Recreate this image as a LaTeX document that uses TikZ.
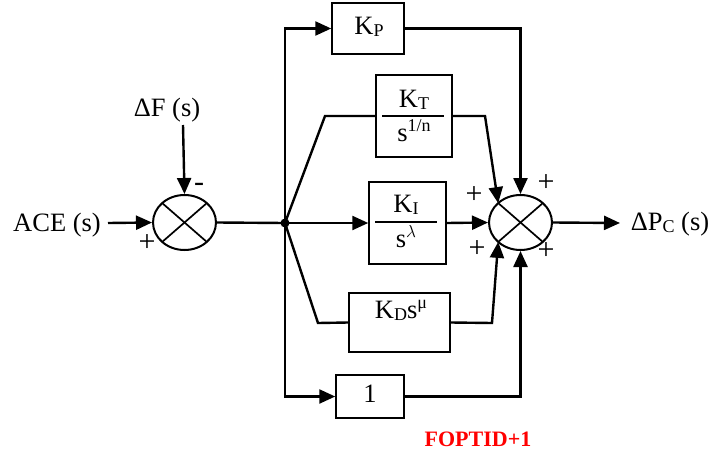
\documentclass[tikz,border=0pt]{standalone}
\usepackage{fontspec}
\setmainfont{Liberation Serif}
\usetikzlibrary{arrows.meta,shapes.geometric,calc}
\newcommand{\mysb}[1]{\raisebox{-0.08em}{\fontsize{18}{18}\selectfont #1}}
\newcommand{\mysp}[1]{\raisebox{0.36em}{\fontsize{18}{18}\selectfont #1}}
\begin{document}
\begin{tikzpicture}[x=1pt,y=-1pt,
  conn/.style={line width=2.4pt},
  arr/.style={conn,-{Triangle[length=16pt,width=14pt]}},
  blk/.style={draw,line width=1.5pt,inner sep=0pt},
  sumj/.style={draw,ellipse,line width=2pt,minimum width=63pt,minimum height=55pt,inner sep=0pt},
  lbl/.style={font=\fontsize{26.5}{30}\selectfont,inner sep=0pt},
  sgn/.style={font=\fontsize{30}{32}\selectfont,inner sep=0pt},
  frac/.style={line width=1.5pt}]
\useasboundingbox (0,0) rectangle (712,455);
% summing junctions
\node[sumj] (s1) at (184.5,222.5) {};
\node[sumj] (s2) at (520.5,222.5) {};
\foreach \s in {s1,s2}{
  \draw[line width=1.7pt] ($(\s)+(-22.3,-19.4)$) -- ($(\s)+(22.3,19.4)$);
  \draw[line width=1.7pt] ($(\s)+(-22.3,19.4)$) -- ($(\s)+(22.3,-19.4)$);
}
\coordinate (s2ul) at ($(s2)+(-22.3,-19.4)$);
\coordinate (s2ll) at ($(s2)+(-22.3,19.4)$);
% blocks
\node[blk,minimum width=72pt,minimum height=51pt] (kp) at (368,28.5) {};
\node[blk,minimum width=76pt,minimum height=82pt] (kt) at (414,116) {};
\node[blk,minimum width=77pt,minimum height=82pt] (ki) at (407.5,223) {};
\node[blk,minimum width=101pt,minimum height=59pt] (kd) at (399.5,322.5) {};
\node[blk,minimum width=68pt,minimum height=43pt] (one) at (370,396.5) {};
% block contents
\node[lbl,anchor=base] (kptxt) at (369,34) {K\mysb{P}};
\node[lbl,anchor=base] (kttxt) at (414,107) {K\mysb{T}};
\draw[frac] (382,116) -- (444,116);
\node[lbl,anchor=base] (ktden) at (414,141) {s\mysp{1/n}};
\node[lbl,anchor=base] (kitxt) at (406,212) {K\mysb{I}};
\draw[frac] (375,222) -- (437,222);
\node[lbl,anchor=base] (kiden) at (406,247) {s\mysp{$\lambda$}};
\node[lbl,anchor=base] (kdtxt) at (401,318) {K\mysb{D}s\mysp{μ}};
\node[lbl,anchor=base] (onetxt) at (370,402) {1};
% labels
\node[lbl] (ace) at (57,225) {ACE (s)};
\node[lbl] (df) at (167,110) {ΔF (s)};
\node[lbl] (dpc) at (670,224) {ΔP\mysb{C} (s)};
\node[sgn] (m1) at (199,187) {-};
\node[sgn] (p1) at (147,243) {+};
\node[sgn] (p2) at (474,195) {+};
\node[sgn] (p3) at (546,183) {+};
\node[sgn] (p4) at (477,249) {+};
\node[sgn] (p5) at (546,251) {+};
\node[font=\fontsize{22}{24}\selectfont\bfseries,text=red,inner sep=0pt] (fop) at (478,439) {FOPTID+1};
% connectors
\coordinate (a0) at (108,223);
\coordinate (d0) at (183,125);
\coordinate (j) at (285,223);
\coordinate (t1) at (325,116);
\coordinate (t2) at (485,116);
\coordinate (d1) at (318,323);
\coordinate (d2) at (492,323);
\coordinate (out) at (620,223);
\draw[arr] (a0) -- (s1.west);
\draw[arr] (d0) -- (s1.north);
\draw[conn] (s1.east) -- (j);
\fill (j) circle (4.5pt);
\draw[arr] (j) |- (kp.west);
\draw[arr] (j) |- (one.west);
\draw[arr] (j) -- (ki.west);
\draw[conn] (j) -- (t1) -- (kt.west);
\draw[conn] (j) -- (d1) -- (kd.west);
\draw[arr] (kt.east) -- (t2) -- (s2ul);
\draw[arr] (kd.east) -- (d2) -- (s2ll);
\draw[arr] (ki.east) -- (s2.west);
\draw[arr] (kp.east) -| (s2.north);
\draw[arr] (one.east) -| (s2.south);
\draw[arr] (s2.east) -- (out);
\end{tikzpicture}
\end{document}
